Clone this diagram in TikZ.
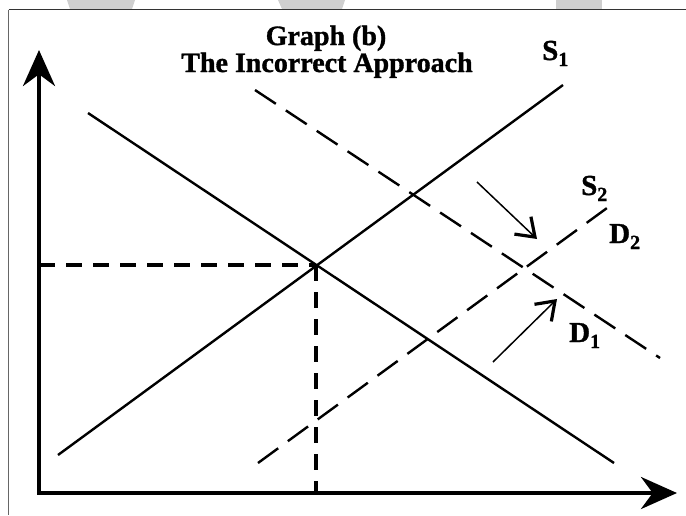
\documentclass[tikz,border=0pt]{standalone}
\usepackage{fontspec}
\setmainfont{Liberation Serif}[BoldFeatures={FakeBold=1.2}]
\usetikzlibrary{arrows.meta}
\newcommand{\sublbl}[2]{#1\raisebox{-6pt}{\fontsize{20}{20}\selectfont #2}}
\begin{document}
\begin{tikzpicture}[x=1pt,y=-1pt,
  axisline/.style={line width=4pt,-{Stealth[length=36pt,width=32pt]}},
  curve/.style={line width=2.4pt},
  dcurve/.style={line width=2.4pt,dash pattern=on 25pt off 12pt},
  guide/.style={line width=3.2pt,dash pattern=on 16pt off 11pt},
  shiftarrow/.style={line width=1.5pt,-{Straight Barb[length=17pt,width=24pt,line width=3.2pt]}},
  lbl/.style={font=\bfseries\fontsize{29}{29}\selectfont,inner sep=0pt,anchor=base west},
  ttl/.style={font=\bfseries\fontsize{28}{28}\selectfont,inner sep=0pt,anchor=base},
  artefact/.style={fill=black!19,draw=none}]
\useasboundingbox (0,0) rectangle (686,515);
% top strip artefacts and frame
\fill[artefact] (67,0) -- (135,0) -- (132,9) -- (70,9) -- cycle;
\fill[artefact] (278,0) -- (345,0) -- (342,9) -- (282,9) -- cycle;
\fill[artefact] (556,0) rectangle (602,9);
\draw[line width=1.6pt,black!80] (8.5,9.5) -- (686,9.5);
\draw[line width=1.6pt,black!60] (8.5,9.5) -- (8.5,515);
% coordinates
\coordinate (O) at (39,493);
\coordinate (Ytop) at (39,50);
\coordinate (Xend) at (677,493);
\coordinate (E) at (316,265);
\coordinate (Ey) at (39,265);
\coordinate (Ex) at (316,493);
\coordinate (D1a) at (88,113);
\coordinate (D1b) at (614,463);
\coordinate (S1a) at (58,455);
\coordinate (S1b) at (563,85);
\coordinate (D2a) at (255,90);
\coordinate (D2b) at (660,358);
\coordinate (S2a) at (258,463);
\coordinate (S2b) at (607,208);
\coordinate (A1a) at (477,182);
\coordinate (A1b) at (537,239);
\coordinate (A2a) at (493,362);
\coordinate (A2b) at (557,299);
% axes
\draw[axisline] ([yshift=2pt]O) -- (Ytop);
\draw[axisline] ([xshift=-2pt]O) -- (Xend);
% curves
\draw[curve] (D1a) -- (D1b);
\draw[curve] (S1a) -- (S1b);
\draw[dcurve] (D2a) -- (D2b);
\draw[dcurve] (S2a) -- (S2b);
% guides
\draw[guide] (Ey) -- (E);
\draw[guide] (E) -- (Ex);
% shift arrows
\draw[shiftarrow] (A1a) -- (A1b);
\draw[shiftarrow] (A2a) -- (A2b);
% labels
\node[ttl] (t1) at (326,45) {Graph (b)};
\node[ttl] (t2) at (327,72) {The Incorrect Approach};
\node[lbl] (s1) at (542,60) {\sublbl{S}{1}};
\node[lbl] (s2) at (581,195) {\sublbl{S}{2}};
\node[lbl] (d2) at (609,243) {\sublbl{D}{2}};
\node[lbl] (d1) at (569,342) {\sublbl{D}{1}};
\end{tikzpicture}
\end{document}
